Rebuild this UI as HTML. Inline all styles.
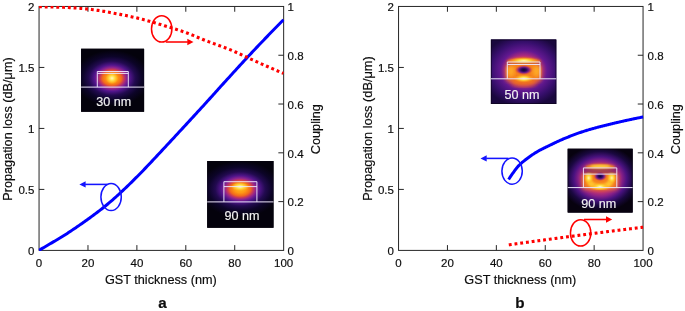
<!DOCTYPE html>
<html><head><meta charset="utf-8"><title>figure</title>
<style>
html,body{margin:0;padding:0;background:#fff;}
body{width:685px;height:311px;overflow:hidden;}
svg{display:block;will-change:transform;font-family:"Liberation Sans",sans-serif;fill:#0d0d0d;}
text{stroke:#0d0d0d;stroke-width:0.18px;}
text.w{stroke:#f2f2f2;stroke-width:0.15px;}
</style></head><body>
<svg width="685" height="311" viewBox="0 0 685 311">
<defs>
<filter id="blur1" x="-20%" y="-20%" width="140%" height="140%"><feGaussianBlur stdDeviation="1.2"/></filter>
<filter id="blur2" x="-20%" y="-20%" width="140%" height="140%"><feGaussianBlur stdDeviation="2"/></filter>
<radialGradient id="gCore" cx="0.5" cy="0.5" r="0.5">
  <stop offset="0" stop-color="#fffac8"/>
  <stop offset="0.35" stop-color="#ffe658"/>
  <stop offset="0.7" stop-color="#ffc22a" stop-opacity="0.75"/>
  <stop offset="1" stop-color="#ffa818" stop-opacity="0"/>
</radialGradient>
<radialGradient id="gDark" cx="0.5" cy="0.5" r="0.5">
  <stop offset="0" stop-color="#10042a"/>
  <stop offset="0.30" stop-color="#2e0c62"/>
  <stop offset="0.55" stop-color="#7a1c8c" stop-opacity="0.95"/>
  <stop offset="0.78" stop-color="#d04a48" stop-opacity="0.6"/>
  <stop offset="1" stop-color="#ff8a10" stop-opacity="0"/>
</radialGradient>
<radialGradient id="gYel" cx="0.5" cy="0.5" r="0.5">
  <stop offset="0" stop-color="#fff7b0"/>
  <stop offset="0.4" stop-color="#ffd83a"/>
  <stop offset="1" stop-color="#ffa010" stop-opacity="0"/>
</radialGradient>
</defs>
<rect width="685" height="311" fill="#fff"/>

<g>
<rect x="39.05" y="6.45" width="244.60" height="243.95" fill="none" stroke="#262626" stroke-width="1"/>
<path d="M87.97,250.4 v-5.3 M87.97,6.45 v5.3" stroke="#262626" stroke-width="1" fill="none"/>
<path d="M136.89,250.4 v-5.3 M136.89,6.45 v5.3" stroke="#262626" stroke-width="1" fill="none"/>
<path d="M185.81,250.4 v-5.3 M185.81,6.45 v5.3" stroke="#262626" stroke-width="1" fill="none"/>
<path d="M234.73,250.4 v-5.3 M234.73,6.45 v5.3" stroke="#262626" stroke-width="1" fill="none"/>
<path d="M39.05,189.41 h5.3" stroke="#262626" stroke-width="1" fill="none"/>
<path d="M39.05,128.43 h5.3" stroke="#262626" stroke-width="1" fill="none"/>
<path d="M39.05,67.44 h5.3" stroke="#262626" stroke-width="1" fill="none"/>
<path d="M283.65,201.61 h-5.3" stroke="#262626" stroke-width="1" fill="none"/>
<path d="M283.65,152.82 h-5.3" stroke="#262626" stroke-width="1" fill="none"/>
<path d="M283.65,104.03 h-5.3" stroke="#262626" stroke-width="1" fill="none"/>
<path d="M283.65,55.24 h-5.3" stroke="#262626" stroke-width="1" fill="none"/>
<text x="39.05" y="267" text-anchor="middle" font-size="11.5">0</text>
<text x="87.97" y="267" text-anchor="middle" font-size="11.5">20</text>
<text x="136.89" y="267" text-anchor="middle" font-size="11.5">40</text>
<text x="185.81" y="267" text-anchor="middle" font-size="11.5">60</text>
<text x="234.73" y="267" text-anchor="middle" font-size="11.5">80</text>
<text x="283.65" y="267" text-anchor="middle" font-size="11.5">100</text>
<text x="34.45" y="255.00" text-anchor="end" font-size="11.5">0</text>
<text x="34.45" y="194.01" text-anchor="end" font-size="11.5">0.5</text>
<text x="34.45" y="133.03" text-anchor="end" font-size="11.5">1</text>
<text x="34.45" y="72.04" text-anchor="end" font-size="11.5">1.5</text>
<text x="34.45" y="11.05" text-anchor="end" font-size="11.5">2</text>
<text x="287.55" y="255.20" text-anchor="start" font-size="11.5">0</text>
<text x="287.55" y="206.41" text-anchor="start" font-size="11.5">0.2</text>
<text x="287.55" y="157.62" text-anchor="start" font-size="11.5">0.4</text>
<text x="287.55" y="108.83" text-anchor="start" font-size="11.5">0.6</text>
<text x="287.55" y="60.04" text-anchor="start" font-size="11.5">0.8</text>
<text x="287.55" y="11.25" text-anchor="start" font-size="11.5">1</text>
<text x="160.85" y="284.3" text-anchor="middle" font-size="12.7">GST thickness (nm)</text>
<text transform="translate(12.15,129.03) rotate(-90)" text-anchor="middle" font-size="12.7">Propagation loss (dB/μm)</text>
<text transform="translate(319.65,129.12) rotate(-90)" text-anchor="middle" font-size="12.7">Coupling</text>
<clipPath id="clipA"><rect x="38.55" y="5.95" width="245.60" height="244.95"/></clipPath>
<g clip-path="url(#clipA)">
<path d="M39.00,250.30 L40.23,249.58 L41.46,248.86 L42.69,248.14 L43.91,247.42 L45.14,246.70 L46.37,245.98 L47.60,245.26 L48.83,244.54 L50.06,243.82 L51.29,243.10 L52.52,242.38 L53.74,241.65 L54.97,240.92 L56.20,240.20 L57.43,239.47 L58.66,238.75 L59.89,238.02 L61.12,237.28 L62.34,236.53 L63.57,235.77 L64.80,234.99 L66.03,234.21 L67.26,233.41 L68.49,232.60 L69.72,231.78 L70.94,230.96 L72.17,230.13 L73.40,229.30 L74.63,228.47 L75.86,227.64 L77.09,226.81 L78.32,225.97 L79.55,225.12 L80.77,224.27 L82.00,223.42 L83.23,222.56 L84.46,221.69 L85.69,220.82 L86.92,219.94 L88.15,219.06 L89.37,218.17 L90.60,217.28 L91.83,216.38 L93.06,215.48 L94.29,214.56 L95.52,213.65 L96.75,212.72 L97.97,211.79 L99.20,210.84 L100.43,209.89 L101.66,208.94 L102.89,207.97 L104.12,207.00 L105.35,206.01 L106.58,205.01 L107.80,204.00 L109.03,202.97 L110.26,201.93 L111.49,200.87 L112.72,199.79 L113.95,198.71 L115.18,197.61 L116.40,196.50 L117.63,195.38 L118.86,194.25 L120.09,193.11 L121.32,191.97 L122.55,190.82 L123.78,189.67 L125.01,188.51 L126.23,187.33 L127.46,186.15 L128.69,184.96 L129.92,183.77 L131.15,182.56 L132.38,181.35 L133.61,180.13 L134.83,178.91 L136.06,177.68 L137.29,176.44 L138.52,175.20 L139.75,173.96 L140.98,172.70 L142.21,171.44 L143.43,170.17 L144.66,168.89 L145.89,167.61 L147.12,166.32 L148.35,165.02 L149.58,163.72 L150.81,162.42 L152.04,161.11 L153.26,159.80 L154.49,158.48 L155.72,157.17 L156.95,155.86 L158.18,154.54 L159.41,153.23 L160.64,151.92 L161.86,150.61 L163.09,149.30 L164.32,147.98 L165.55,146.67 L166.78,145.35 L168.01,144.03 L169.24,142.70 L170.46,141.38 L171.69,140.06 L172.92,138.73 L174.15,137.40 L175.38,136.08 L176.61,134.75 L177.84,133.42 L179.07,132.09 L180.29,130.76 L181.52,129.43 L182.75,128.11 L183.98,126.78 L185.21,125.45 L186.44,124.12 L187.67,122.78 L188.89,121.45 L190.12,120.12 L191.35,118.79 L192.58,117.45 L193.81,116.12 L195.04,114.78 L196.27,113.44 L197.49,112.11 L198.72,110.77 L199.95,109.42 L201.18,108.08 L202.41,106.74 L203.64,105.39 L204.87,104.05 L206.10,102.70 L207.32,101.34 L208.55,99.99 L209.78,98.63 L211.01,97.27 L212.24,95.90 L213.47,94.54 L214.70,93.17 L215.92,91.81 L217.15,90.44 L218.38,89.08 L219.61,87.71 L220.84,86.35 L222.07,84.99 L223.30,83.63 L224.53,82.28 L225.75,80.93 L226.98,79.58 L228.21,78.23 L229.44,76.89 L230.67,75.54 L231.90,74.19 L233.13,72.85 L234.35,71.50 L235.58,70.16 L236.81,68.81 L238.04,67.47 L239.27,66.13 L240.50,64.79 L241.73,63.46 L242.95,62.12 L244.18,60.79 L245.41,59.46 L246.64,58.13 L247.87,56.81 L249.10,55.49 L250.33,54.17 L251.56,52.86 L252.78,51.55 L254.01,50.25 L255.24,48.95 L256.47,47.65 L257.70,46.35 L258.93,45.06 L260.16,43.77 L261.38,42.49 L262.61,41.20 L263.84,39.92 L265.07,38.64 L266.30,37.37 L267.53,36.09 L268.76,34.82 L269.98,33.56 L271.21,32.29 L272.44,31.03 L273.67,29.77 L274.90,28.51 L276.13,27.26 L277.36,26.01 L278.59,24.76 L279.81,23.52 L281.04,22.28 L282.27,21.04 L283.50,19.80" fill="none" stroke="#0000ff" stroke-width="3.0"/>
<path d="M39.00,6.80 L40.23,6.80 L41.46,6.81 L42.68,6.82 L43.91,6.83 L45.14,6.84 L46.37,6.86 L47.60,6.88 L48.83,6.91 L50.05,6.93 L51.28,6.96 L52.51,6.99 L53.74,7.02 L54.97,7.06 L56.19,7.09 L57.42,7.13 L58.65,7.16 L59.88,7.20 L61.11,7.24 L62.33,7.28 L63.56,7.32 L64.79,7.36 L66.02,7.42 L67.25,7.47 L68.48,7.54 L69.70,7.60 L70.93,7.68 L72.16,7.76 L73.39,7.84 L74.62,7.92 L75.84,8.02 L77.07,8.11 L78.30,8.21 L79.53,8.31 L80.76,8.42 L81.98,8.52 L83.21,8.63 L84.44,8.75 L85.67,8.86 L86.90,8.98 L88.13,9.10 L89.35,9.23 L90.58,9.37 L91.81,9.52 L93.04,9.68 L94.27,9.84 L95.49,10.01 L96.72,10.19 L97.95,10.38 L99.18,10.57 L100.41,10.76 L101.64,10.96 L102.86,11.17 L104.09,11.38 L105.32,11.60 L106.55,11.82 L107.78,12.04 L109.00,12.27 L110.23,12.50 L111.46,12.73 L112.69,12.96 L113.92,13.20 L115.14,13.43 L116.37,13.67 L117.60,13.91 L118.83,14.14 L120.06,14.38 L121.29,14.62 L122.51,14.85 L123.74,15.10 L124.97,15.35 L126.20,15.60 L127.43,15.86 L128.65,16.12 L129.88,16.39 L131.11,16.66 L132.34,16.94 L133.57,17.22 L134.79,17.50 L136.02,17.79 L137.25,18.08 L138.48,18.38 L139.71,18.68 L140.94,18.98 L142.16,19.29 L143.39,19.60 L144.62,19.92 L145.85,20.25 L147.08,20.58 L148.30,20.92 L149.53,21.26 L150.76,21.61 L151.99,21.97 L153.22,22.32 L154.45,22.69 L155.67,23.05 L156.90,23.42 L158.13,23.79 L159.36,24.17 L160.59,24.55 L161.81,24.92 L163.04,25.30 L164.27,25.68 L165.50,26.06 L166.73,26.44 L167.95,26.82 L169.18,27.20 L170.41,27.58 L171.64,27.96 L172.87,28.33 L174.10,28.71 L175.32,29.09 L176.55,29.47 L177.78,29.86 L179.01,30.25 L180.24,30.64 L181.46,31.04 L182.69,31.46 L183.92,31.87 L185.15,32.30 L186.38,32.75 L187.61,33.20 L188.83,33.68 L190.06,34.16 L191.29,34.66 L192.52,35.17 L193.75,35.68 L194.97,36.19 L196.20,36.71 L197.43,37.23 L198.66,37.75 L199.89,38.26 L201.11,38.76 L202.34,39.26 L203.57,39.75 L204.80,40.22 L206.03,40.69 L207.26,41.16 L208.48,41.62 L209.71,42.08 L210.94,42.53 L212.17,42.98 L213.40,43.43 L214.62,43.88 L215.85,44.33 L217.08,44.78 L218.31,45.23 L219.54,45.68 L220.76,46.13 L221.99,46.59 L223.22,47.05 L224.45,47.51 L225.68,47.98 L226.91,48.46 L228.13,48.94 L229.36,49.42 L230.59,49.92 L231.82,50.42 L233.05,50.94 L234.27,51.46 L235.50,52.00 L236.73,52.54 L237.96,53.10 L239.19,53.66 L240.42,54.22 L241.64,54.79 L242.87,55.37 L244.10,55.94 L245.33,56.52 L246.56,57.10 L247.78,57.68 L249.01,58.25 L250.24,58.82 L251.47,59.39 L252.70,59.96 L253.92,60.52 L255.15,61.07 L256.38,61.62 L257.61,62.16 L258.84,62.71 L260.07,63.25 L261.29,63.80 L262.52,64.34 L263.75,64.88 L264.98,65.42 L266.21,65.96 L267.43,66.50 L268.66,67.04 L269.89,67.58 L271.12,68.11 L272.35,68.65 L273.57,69.18 L274.80,69.71 L276.03,70.24 L277.26,70.77 L278.49,71.30 L279.72,71.83 L280.94,72.35 L282.17,72.88 L283.40,73.40" fill="none" stroke="#ff0000" stroke-width="3.1" stroke-dasharray="2.87 2.905"/>
</g>
<ellipse cx="161.7" cy="28.9" rx="10.2" ry="13.2" fill="none" stroke="#ff0000" stroke-width="1.5"/>
<path d="M165.7,42.0 H187.80" stroke="#ff0000" stroke-width="1.55" fill="none"/><path d="M193.5,42.0 L187.30,38.85 L187.30,45.15 Z" fill="#ff0000"/>
<ellipse cx="111.1" cy="197.1" rx="10.2" ry="13.5" fill="none" stroke="#1414ff" stroke-width="1.5"/>
<path d="M107.2,184.4 H85.10" stroke="#1414ff" stroke-width="1.55" fill="none"/><path d="M79.4,184.4 L85.60,181.25 L85.60,187.55 Z" fill="#1414ff"/>
<clipPath id="ca1"><rect x="81.1" y="48.8" width="63.0" height="63.0"/></clipPath>
<g clip-path="url(#ca1)">
<rect x="79.1" y="46.8" width="67.0" height="67.0" fill="#04020c"/>
<radialGradient id="ha1" gradientUnits="userSpaceOnUse" cx="0" cy="0" r="1" gradientTransform="translate(112.0,78.2) scale(38,28)"><stop offset="0" stop-color="#ffb31c"/><stop offset="0.14" stop-color="#ff9a14"/><stop offset="0.25" stop-color="#f26a1c"/><stop offset="0.31" stop-color="#cc3c55"/><stop offset="0.38" stop-color="#8f248f"/><stop offset="0.47" stop-color="#52158c"/><stop offset="0.61" stop-color="#220a50"/><stop offset="0.78" stop-color="#0c0428"/><stop offset="1" stop-color="#04020c"/></radialGradient><rect x="79.1" y="46.8" width="67.0" height="67.0" fill="url(#ha1)"/>
<ellipse cx="112.0" cy="78.2" rx="6.5" ry="6.0" fill="url(#gCore)"/>
</g>
<path d="M81.1,87.1 H144.1" stroke="#ede6fa" stroke-width="1.0" fill="none"/>
<path d="M97.3,87.1 V71.5 H128.3 V87.1 M97.3,73.4 H128.3" stroke="#ede6fa" stroke-width="0.95" fill="none"/>
<text x="113.8" y="105.8" text-anchor="middle" font-size="12.6" fill="#f2f2f2" class="w">30 nm</text>
<clipPath id="ca2"><rect x="207.2" y="160.9" width="66.3" height="66.9"/></clipPath>
<g clip-path="url(#ca2)">
<rect x="205.2" y="158.9" width="70.3" height="70.9" fill="#04020c"/>
<radialGradient id="ha2" gradientUnits="userSpaceOnUse" cx="0" cy="0" r="1" gradientTransform="translate(240.2,188.9) scale(41,28)"><stop offset="0" stop-color="#ffb31c"/><stop offset="0.14" stop-color="#ff9a14"/><stop offset="0.25" stop-color="#f26a1c"/><stop offset="0.31" stop-color="#cc3c55"/><stop offset="0.38" stop-color="#8f248f"/><stop offset="0.47" stop-color="#52158c"/><stop offset="0.61" stop-color="#220a50"/><stop offset="0.78" stop-color="#0c0428"/><stop offset="1" stop-color="#04020c"/></radialGradient><rect x="205.2" y="158.9" width="70.3" height="70.9" fill="url(#ha2)"/>
<ellipse cx="240.0" cy="186.7" rx="9.0" ry="4.6" fill="url(#gCore)"/>
</g>
<path d="M207.2,201.9 H273.5" stroke="#ede6fa" stroke-width="1.0" fill="none"/>
<path d="M223.9,201.9 V181.7 H256.9 V201.9 M223.9,186.6 H256.9" stroke="#ede6fa" stroke-width="0.95" fill="none"/>
<text x="242.1" y="220.2" text-anchor="middle" font-size="12.6" fill="#f2f2f2" class="w">90 nm</text>
<text x="162.5" y="307.7" text-anchor="middle" font-size="15.2" font-weight="bold">a</text>
</g>
<g>
<rect x="398.55" y="6.45" width="244.50" height="243.95" fill="none" stroke="#262626" stroke-width="1"/>
<path d="M447.45,250.4 v-5.3 M447.45,6.45 v5.3" stroke="#262626" stroke-width="1" fill="none"/>
<path d="M496.35,250.4 v-5.3 M496.35,6.45 v5.3" stroke="#262626" stroke-width="1" fill="none"/>
<path d="M545.25,250.4 v-5.3 M545.25,6.45 v5.3" stroke="#262626" stroke-width="1" fill="none"/>
<path d="M594.15,250.4 v-5.3 M594.15,6.45 v5.3" stroke="#262626" stroke-width="1" fill="none"/>
<path d="M398.55,189.41 h5.3" stroke="#262626" stroke-width="1" fill="none"/>
<path d="M398.55,128.43 h5.3" stroke="#262626" stroke-width="1" fill="none"/>
<path d="M398.55,67.44 h5.3" stroke="#262626" stroke-width="1" fill="none"/>
<path d="M643.05,201.61 h-5.3" stroke="#262626" stroke-width="1" fill="none"/>
<path d="M643.05,152.82 h-5.3" stroke="#262626" stroke-width="1" fill="none"/>
<path d="M643.05,104.03 h-5.3" stroke="#262626" stroke-width="1" fill="none"/>
<path d="M643.05,55.24 h-5.3" stroke="#262626" stroke-width="1" fill="none"/>
<text x="398.55" y="267" text-anchor="middle" font-size="11.5">0</text>
<text x="447.45" y="267" text-anchor="middle" font-size="11.5">20</text>
<text x="496.35" y="267" text-anchor="middle" font-size="11.5">40</text>
<text x="545.25" y="267" text-anchor="middle" font-size="11.5">60</text>
<text x="594.15" y="267" text-anchor="middle" font-size="11.5">80</text>
<text x="643.05" y="267" text-anchor="middle" font-size="11.5">100</text>
<text x="393.95" y="255.00" text-anchor="end" font-size="11.5">0</text>
<text x="393.95" y="194.01" text-anchor="end" font-size="11.5">0.5</text>
<text x="393.95" y="133.03" text-anchor="end" font-size="11.5">1</text>
<text x="393.95" y="72.04" text-anchor="end" font-size="11.5">1.5</text>
<text x="393.95" y="11.05" text-anchor="end" font-size="11.5">2</text>
<text x="647.55" y="255.20" text-anchor="start" font-size="11.5">0</text>
<text x="647.55" y="206.41" text-anchor="start" font-size="11.5">0.2</text>
<text x="647.55" y="157.62" text-anchor="start" font-size="11.5">0.4</text>
<text x="647.55" y="108.83" text-anchor="start" font-size="11.5">0.6</text>
<text x="647.55" y="60.04" text-anchor="start" font-size="11.5">0.8</text>
<text x="647.55" y="11.25" text-anchor="start" font-size="11.5">1</text>
<text x="520.30" y="284.3" text-anchor="middle" font-size="12.7">GST thickness (nm)</text>
<text transform="translate(371.65,128.53) rotate(-90)" text-anchor="middle" font-size="12.8">Propagation loss (dB/μm)</text>
<text transform="translate(679.65,129.12) rotate(-90)" text-anchor="middle" font-size="12.7">Coupling</text>
<clipPath id="clipB"><rect x="398.05" y="5.95" width="245.50" height="244.95"/></clipPath>
<g clip-path="url(#clipB)">
<path d="M508.80,244.85 L509.48,244.76 L510.15,244.66 L510.83,244.57 L511.50,244.47 L512.18,244.38 L512.85,244.28 L513.53,244.19 L514.20,244.09 L514.88,244.00 L515.55,243.90 L516.23,243.81 L516.90,243.71 L517.58,243.62 L518.26,243.53 L518.93,243.43 L519.61,243.34 L520.28,243.24 L520.96,243.15 L521.63,243.06 L522.31,242.96 L522.98,242.87 L523.66,242.78 L524.33,242.68 L525.01,242.59 L525.68,242.49 L526.36,242.40 L527.04,242.31 L527.71,242.21 L528.39,242.12 L529.06,242.03 L529.74,241.94 L530.41,241.84 L531.09,241.75 L531.76,241.66 L532.44,241.56 L533.11,241.47 L533.79,241.38 L534.46,241.29 L535.14,241.19 L535.82,241.10 L536.49,241.01 L537.17,240.92 L537.84,240.82 L538.52,240.73 L539.19,240.64 L539.87,240.55 L540.54,240.46 L541.22,240.36 L541.89,240.27 L542.57,240.18 L543.24,240.09 L543.92,240.00 L544.59,239.90 L545.27,239.81 L545.95,239.72 L546.62,239.63 L547.30,239.54 L547.97,239.45 L548.65,239.36 L549.32,239.26 L550.00,239.17 L550.67,239.08 L551.35,238.99 L552.02,238.90 L552.70,238.81 L553.37,238.72 L554.05,238.63 L554.73,238.54 L555.40,238.45 L556.08,238.36 L556.75,238.26 L557.43,238.17 L558.10,238.08 L558.78,237.99 L559.45,237.90 L560.13,237.81 L560.80,237.72 L561.48,237.63 L562.15,237.54 L562.83,237.45 L563.51,237.36 L564.18,237.27 L564.86,237.18 L565.53,237.09 L566.21,237.00 L566.88,236.91 L567.56,236.82 L568.23,236.74 L568.91,236.65 L569.58,236.56 L570.26,236.47 L570.93,236.38 L571.61,236.29 L572.29,236.20 L572.96,236.11 L573.64,236.02 L574.31,235.93 L574.99,235.84 L575.66,235.76 L576.34,235.67 L577.01,235.58 L577.69,235.49 L578.36,235.40 L579.04,235.31 L579.71,235.22 L580.39,235.14 L581.07,235.05 L581.74,234.96 L582.42,234.87 L583.09,234.78 L583.77,234.70 L584.44,234.61 L585.12,234.52 L585.79,234.43 L586.47,234.34 L587.14,234.26 L587.82,234.17 L588.49,234.08 L589.17,233.99 L589.85,233.91 L590.52,233.82 L591.20,233.73 L591.87,233.64 L592.55,233.56 L593.22,233.47 L593.90,233.38 L594.57,233.30 L595.25,233.21 L595.92,233.12 L596.60,233.04 L597.27,232.95 L597.95,232.86 L598.63,232.78 L599.30,232.69 L599.98,232.60 L600.65,232.52 L601.33,232.43 L602.00,232.34 L602.68,232.26 L603.35,232.17 L604.03,232.08 L604.70,232.00 L605.38,231.91 L606.05,231.83 L606.73,231.74 L607.41,231.66 L608.08,231.57 L608.76,231.48 L609.43,231.40 L610.11,231.31 L610.78,231.23 L611.46,231.14 L612.13,231.06 L612.81,230.97 L613.48,230.89 L614.16,230.80 L614.83,230.72 L615.51,230.63 L616.18,230.55 L616.86,230.46 L617.54,230.38 L618.21,230.29 L618.89,230.21 L619.56,230.12 L620.24,230.04 L620.91,229.95 L621.59,229.87 L622.26,229.78 L622.94,229.70 L623.61,229.62 L624.29,229.53 L624.96,229.45 L625.64,229.36 L626.32,229.28 L626.99,229.20 L627.67,229.11 L628.34,229.03 L629.02,228.94 L629.69,228.86 L630.37,228.78 L631.04,228.69 L631.72,228.61 L632.39,228.53 L633.07,228.44 L633.74,228.36 L634.42,228.28 L635.10,228.19 L635.77,228.11 L636.45,228.03 L637.12,227.94 L637.80,227.86 L638.47,227.78 L639.15,227.70 L639.82,227.61 L640.50,227.53 L641.17,227.45 L641.85,227.36 L642.52,227.28 L643.20,227.20" fill="none" stroke="#ff0000" stroke-width="3.1" stroke-dasharray="2.87 2.905"/>
<path d="M508.60,179.50 L509.28,178.45 L509.95,177.42 L510.63,176.40 L511.31,175.41 L511.98,174.43 L512.66,173.47 L513.33,172.53 L514.01,171.60 L514.69,170.67 L515.36,169.74 L516.04,168.84 L516.72,167.97 L517.39,167.14 L518.07,166.36 L518.75,165.65 L519.42,164.97 L520.10,164.31 L520.77,163.68 L521.45,163.07 L522.13,162.48 L522.80,161.91 L523.48,161.35 L524.16,160.81 L524.83,160.27 L525.51,159.75 L526.19,159.24 L526.86,158.73 L527.54,158.22 L528.22,157.72 L528.89,157.22 L529.57,156.73 L530.24,156.24 L530.92,155.77 L531.60,155.30 L532.27,154.84 L532.95,154.38 L533.63,153.94 L534.30,153.50 L534.98,153.07 L535.66,152.65 L536.33,152.24 L537.01,151.84 L537.68,151.44 L538.36,151.06 L539.04,150.68 L539.71,150.31 L540.39,149.95 L541.07,149.59 L541.74,149.24 L542.42,148.89 L543.10,148.55 L543.77,148.22 L544.45,147.88 L545.12,147.55 L545.80,147.22 L546.48,146.90 L547.15,146.57 L547.83,146.25 L548.51,145.92 L549.18,145.60 L549.86,145.27 L550.54,144.94 L551.21,144.62 L551.89,144.29 L552.56,143.96 L553.24,143.63 L553.92,143.30 L554.59,142.97 L555.27,142.65 L555.95,142.32 L556.62,142.00 L557.30,141.68 L557.98,141.37 L558.65,141.05 L559.33,140.74 L560.01,140.43 L560.68,140.13 L561.36,139.83 L562.03,139.54 L562.71,139.25 L563.39,138.96 L564.06,138.68 L564.74,138.40 L565.42,138.12 L566.09,137.85 L566.77,137.57 L567.45,137.30 L568.12,137.03 L568.80,136.76 L569.47,136.49 L570.15,136.22 L570.83,135.96 L571.50,135.69 L572.18,135.43 L572.86,135.17 L573.53,134.92 L574.21,134.66 L574.89,134.41 L575.56,134.16 L576.24,133.91 L576.91,133.66 L577.59,133.42 L578.27,133.18 L578.94,132.94 L579.62,132.70 L580.30,132.47 L580.97,132.24 L581.65,132.01 L582.33,131.78 L583.00,131.56 L583.68,131.34 L584.35,131.12 L585.03,130.91 L585.71,130.70 L586.38,130.49 L587.06,130.28 L587.74,130.08 L588.41,129.87 L589.09,129.67 L589.77,129.48 L590.44,129.28 L591.12,129.08 L591.79,128.89 L592.47,128.70 L593.15,128.51 L593.82,128.32 L594.50,128.14 L595.18,127.95 L595.85,127.77 L596.53,127.59 L597.21,127.41 L597.88,127.23 L598.56,127.05 L599.24,126.88 L599.91,126.70 L600.59,126.53 L601.26,126.36 L601.94,126.18 L602.62,126.01 L603.29,125.84 L603.97,125.67 L604.65,125.51 L605.32,125.34 L606.00,125.17 L606.68,125.01 L607.35,124.84 L608.03,124.68 L608.70,124.51 L609.38,124.35 L610.06,124.19 L610.73,124.02 L611.41,123.86 L612.09,123.70 L612.76,123.54 L613.44,123.38 L614.12,123.22 L614.79,123.06 L615.47,122.90 L616.14,122.74 L616.82,122.58 L617.50,122.42 L618.17,122.27 L618.85,122.11 L619.53,121.95 L620.20,121.80 L620.88,121.64 L621.56,121.49 L622.23,121.34 L622.91,121.18 L623.58,121.03 L624.26,120.88 L624.94,120.73 L625.61,120.58 L626.29,120.43 L626.97,120.28 L627.64,120.14 L628.32,119.99 L629.00,119.84 L629.67,119.70 L630.35,119.55 L631.03,119.41 L631.70,119.26 L632.38,119.12 L633.05,118.98 L633.73,118.84 L634.41,118.70 L635.08,118.56 L635.76,118.42 L636.44,118.28 L637.11,118.15 L637.79,118.01 L638.47,117.87 L639.14,117.74 L639.82,117.61 L640.49,117.47 L641.17,117.34 L641.85,117.21 L642.52,117.08 L643.20,116.95" fill="none" stroke="#0000ff" stroke-width="3.0"/>
</g>
<ellipse cx="512.1" cy="171.1" rx="10.2" ry="13.1" fill="none" stroke="#1414ff" stroke-width="1.5"/>
<path d="M508.6,158.4 H486.20" stroke="#1414ff" stroke-width="1.55" fill="none"/><path d="M480.5,158.4 L486.70,155.25 L486.70,161.55 Z" fill="#1414ff"/>
<ellipse cx="580.65" cy="232.9" rx="10.2" ry="13.2" fill="none" stroke="#ff0000" stroke-width="1.5"/>
<path d="M584.0,219.5 H606.50" stroke="#ff0000" stroke-width="1.55" fill="none"/><path d="M612.2,219.5 L606.00,216.35 L606.00,222.65 Z" fill="#ff0000"/>
<clipPath id="cb1"><rect x="490.9" y="39.55" width="65.4" height="64.45"/></clipPath>
<g clip-path="url(#cb1)">
<rect x="488.9" y="37.55" width="69.4" height="68.45" fill="#1c0842"/>
<radialGradient id="hb1" gradientUnits="userSpaceOnUse" cx="0" cy="0" r="1" gradientTransform="translate(523.8,70.5) scale(42,36)"><stop offset="0" stop-color="#ff9a0a"/><stop offset="0.26" stop-color="#f3741a"/><stop offset="0.4" stop-color="#b52c7c"/><stop offset="0.56" stop-color="#621890"/><stop offset="0.78" stop-color="#380f6e"/><stop offset="1" stop-color="#1a083e"/></radialGradient><rect x="488.9" y="37.55" width="69.4" height="68.45" fill="url(#hb1)"/>
<rect x="506.3" y="65.2" width="34.6" height="15.6" rx="2" fill="#f5801a" filter="url(#blur2)"/><ellipse cx="523.8" cy="61.6" rx="17" ry="3.6" fill="#f5801a" filter="url(#blur1)"/><ellipse cx="523.8" cy="81.5" rx="13" ry="4.5" fill="#f0701c" filter="url(#blur2)"/><ellipse cx="510.8" cy="71.0" rx="3.6" ry="6.0" fill="#ffae28" filter="url(#blur2)"/><ellipse cx="536.6" cy="71.0" rx="3.6" ry="6.0" fill="#ffae28" filter="url(#blur2)"/>
<ellipse cx="523.8" cy="60.7" rx="15" ry="3.4" fill="url(#gYel)"/>
<ellipse cx="523.8" cy="78.5" rx="10.5" ry="4.2" fill="url(#gYel)"/>
<ellipse cx="523.8" cy="69.9" rx="9.6" ry="5.4" fill="url(#gDark)"/>
<rect x="507.3" y="62.6" width="32.69999999999999" height="1.50" fill="#6a1a70" opacity="0.45" filter="url(#blur1)"/>
<rect x="491.2" y="39.849999999999994" width="64.80000000000001" height="63.85" fill="none" stroke="#0a0418" stroke-width="0.9" opacity="0.8"/>
</g>
<path d="M490.9,78.8 H556.3" stroke="#ede6fa" stroke-width="1.0" fill="none"/>
<path d="M507.3,78.8 V62.0 H540.0 V78.8 M507.3,64.5 H540.0" stroke="#ede6fa" stroke-width="0.95" fill="none"/>
<text x="522.0" y="98.9" text-anchor="middle" font-size="12.6" fill="#f2f2f2" class="w">50 nm</text>
<clipPath id="cb2"><rect x="567.7" y="148.8" width="64.9" height="63.8"/></clipPath>
<g clip-path="url(#cb2)">
<rect x="565.7" y="146.8" width="68.9" height="67.8" fill="#07020f"/>
<radialGradient id="hb2" gradientUnits="userSpaceOnUse" cx="0" cy="0" r="1" gradientTransform="translate(600.2,178.5) scale(40,33)"><stop offset="0" stop-color="#f3741a"/><stop offset="0.3" stop-color="#e0583a"/><stop offset="0.42" stop-color="#c03470"/><stop offset="0.54" stop-color="#8a2088"/><stop offset="0.66" stop-color="#4a1280"/><stop offset="0.82" stop-color="#1a0840"/><stop offset="1" stop-color="#07020f"/></radialGradient><rect x="565.7" y="146.8" width="68.9" height="67.8" fill="url(#hb2)"/>
<rect x="582.6" y="173.4" width="35.0" height="15.6" rx="2" fill="#f5801a" filter="url(#blur2)"/><ellipse cx="600.2" cy="167.0" rx="15" ry="3.0" fill="#f08a1e" filter="url(#blur1)"/><ellipse cx="600.2" cy="166.6" rx="10" ry="1.8" fill="#ffd040" filter="url(#blur1)"/><path d="M588.7,175.0 C588.2,183.5 592,186.8 600.1,186.8 C608.2,186.8 612.0,183.5 611.5,175.0" fill="none" stroke="#ffc22e" stroke-width="5.6" stroke-linecap="round" filter="url(#blur1)"/><ellipse cx="588.7" cy="178.0" rx="4.6" ry="6.0" fill="url(#gYel)"/><ellipse cx="611.8" cy="178.0" rx="4.6" ry="6.0" fill="url(#gYel)"/><ellipse cx="600.1" cy="186.6" rx="9" ry="3.8" fill="url(#gYel)"/>
<ellipse cx="600.2" cy="176.3" rx="7.4" ry="5.2" fill="url(#gDark)"/>
<rect x="583.4" y="168.5" width="33.39999999999998" height="5.20" fill="#6a1a70" opacity="0.55" filter="url(#blur1)"/>
<rect x="568.0" y="149.10000000000002" width="64.30000000000001" height="63.199999999999996" fill="none" stroke="#0a0418" stroke-width="0.9" opacity="0.8"/>
</g>
<path d="M567.7,187.6 H632.6" stroke="#ede6fa" stroke-width="1.0" fill="none"/>
<path d="M583.4,187.6 V167.9 H616.8 V187.6 M583.4,174.1 H616.8" stroke="#ede6fa" stroke-width="0.95" fill="none"/>
<text x="598.8" y="207.5" text-anchor="middle" font-size="12.6" fill="#f2f2f2" class="w">90 nm</text>
<text x="519.9" y="307.7" text-anchor="middle" font-size="15.2" font-weight="bold">b</text>
</g>
</svg>
</body></html>
